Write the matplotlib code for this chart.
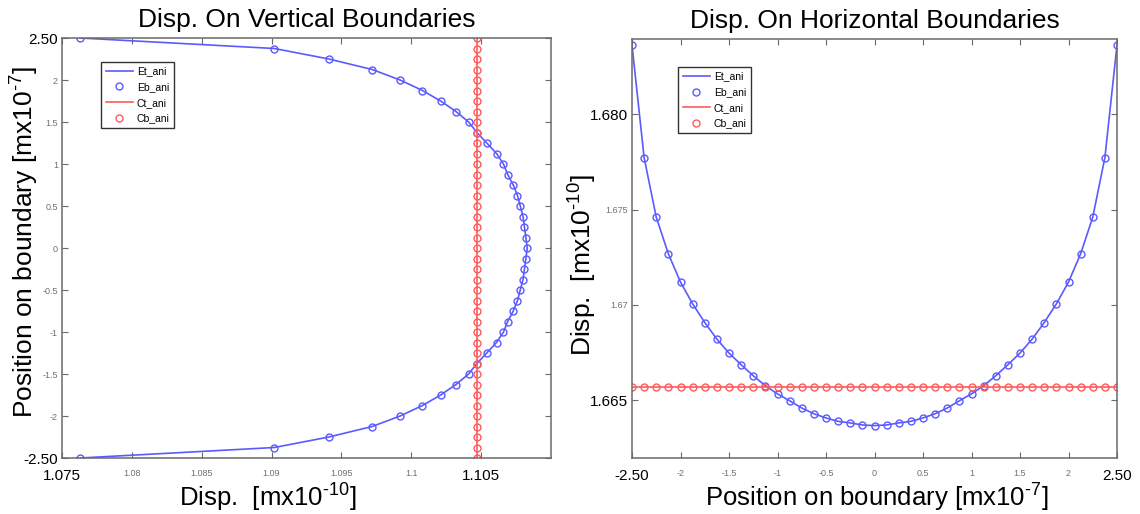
import matplotlib
matplotlib.use("Agg")
import matplotlib.pyplot as plt

plt.rcParams['font.family'] = ['Liberation Sans', 'DejaVu Sans']

# node positions along a boundary [m x 1e-7]
boundary_pos = [-2.5, -2.375, -2.25, -2.125, -2.0, -1.875, -1.75, -1.625, -1.5, -1.375,
                -1.25, -1.125, -1.0, -0.875, -0.75, -0.625, -0.5, -0.375, -0.25, -0.125,
                0.0, 0.125, 0.25, 0.375, 0.5, 0.625, 0.75, 0.875, 1.0, 1.125,
                1.25, 1.375, 1.5, 1.625, 1.75, 1.875, 2.0, 2.125, 2.25, 2.375, 2.5]

# displacement on vertical boundaries [m x 1e-10]
disp_vert_e = [1.0763, 1.0902, 1.0941, 1.0972, 1.0992, 1.1008, 1.1021, 1.1032, 1.1041, 1.1047,
               1.1054, 1.1061, 1.1066, 1.1069, 1.1073, 1.1076, 1.1078, 1.1080, 1.1081, 1.1082,
               1.1083, 1.1082, 1.1081, 1.1080, 1.1078, 1.1076, 1.1073, 1.1069, 1.1066, 1.1061,
               1.1054, 1.1047, 1.1041, 1.1032, 1.1021, 1.1008, 1.0992, 1.0972, 1.0941, 1.0902,
               1.0763]
disp_vert_c = [1.1047] * 41

# displacement on horizontal boundaries [m x 1e-10]
disp_horz_e = [1.68362, 1.67772, 1.67460, 1.67268, 1.67120, 1.67006, 1.66908, 1.66821, 1.66748, 1.66687,
               1.66629, 1.66577, 1.66534, 1.66498, 1.66460, 1.66430, 1.66408, 1.66390, 1.66382, 1.66371,
               1.66368, 1.66371, 1.66382, 1.66390, 1.66408, 1.66430, 1.66460, 1.66498, 1.66534, 1.66577,
               1.66629, 1.66687, 1.66748, 1.66821, 1.66908, 1.67006, 1.67120, 1.67268, 1.67460, 1.67772,
               1.68362]
disp_horz_c = [1.66568] * 41

legend_names = ['Et_ani', 'Eb_ani', 'Ct_ani', 'Cb_ani']

pos_ticks = [-2.5, -2, -1.5, -1, -0.5, 0, 0.5, 1, 1.5, 2, 2.5]
pos_labels = ['-2.50', '-2', '-1.5', '-1', '-0.5', '0', '0.5', '1', '1.5', '2', '2.50']
vdisp_ticks = [1.075, 1.08, 1.085, 1.09, 1.095, 1.1, 1.105]
vdisp_labels = ['1.075', '1.08', '1.085', '1.09', '1.095', '1.1', '1.105']
hdisp_ticks = [1.665, 1.67, 1.675, 1.68]
hdisp_labels = ['1.665', '1.67', '1.675', '1.680']

BLUE = '#5a5aff'
RED = '#ff5a5a'
HY = '\u2010'  # short hyphen for the exponents

LBL_POS = 'Position on boundary [mx10$^{\\mathregular{' + HY + '7}}$]'
LBL_DISP = 'Disp.  [mx10$^{\\mathregular{' + HY + '10}}$]'


def style_ticks(labels, big):
    for i, t in enumerate(labels):
        if i in big:
            t.set_fontsize(11)
            t.set_color('black')
        else:
            t.set_fontsize(6.5)
            t.set_color('#707070')


def draw(ax, x_e, y_e, x_c, y_c):
    ax.plot(x_e, y_e, '-', color=BLUE, lw=1.2, label=legend_names[0])
    ax.plot(x_e, y_e, 'o', ls='none', mfc='none', mec=BLUE, ms=5, mew=1.0, label=legend_names[1])
    ax.plot(x_c, y_c, '-', color=RED, lw=1.2, label=legend_names[2])
    ax.plot(x_c, y_c, 'o', ls='none', mfc='none', mec=RED, ms=5, mew=1.0, label=legend_names[3])
    for s in ax.spines.values():
        s.set_color('#6a6a6a')
        s.set_linewidth(1.1)
    ax.tick_params(direction='in', length=4, width=0.8, color='#6a6a6a',
                   top=True, right=True, pad=3)
    ax.tick_params(axis='x', pad=8)


def add_legend(ax, anchor):
    ax.legend(loc='upper left', bbox_to_anchor=anchor, fontsize=7.5,
              fancybox=False, edgecolor='#333333', framealpha=1, handlelength=2.6,
              borderpad=0.4, labelspacing=0.55, handletextpad=0.4)


fig = plt.figure(figsize=(11.4, 5.14), dpi=100)

# left: vertical boundaries
ax1 = fig.add_axes([62 / 1140, 56 / 514, 489 / 1140, 420 / 514])
draw(ax1, disp_vert_e, boundary_pos, disp_vert_c, boundary_pos)
ax1.set_xlim(1.075, 1.11)
ax1.set_ylim(-2.5, 2.5)
ax1.set_xticks(vdisp_ticks)
ax1.set_xticklabels(vdisp_labels)
ax1.set_yticks(pos_ticks)
ax1.set_yticklabels(pos_labels)
style_ticks(ax1.get_xticklabels(), {0, 6})
style_ticks(ax1.get_yticklabels(), {0, 10})
ax1.set_title('Disp. On Vertical Boundaries', fontsize=19, pad=8)
ax1.set_xlabel(LBL_DISP, fontsize=18.5)
ax1.xaxis.set_label_coords(0.42, -0.052)
ax1.set_ylabel(LBL_POS, fontsize=19)
ax1.yaxis.set_label_coords(-0.045, 0.515)
add_legend(ax1, (0.07, 0.955))

# right: horizontal boundaries
ax2 = fig.add_axes([632 / 1140, 56 / 514, 485 / 1140, 419 / 514])
draw(ax2, boundary_pos, disp_horz_e, boundary_pos, disp_horz_c)
ax2.set_xlim(-2.5, 2.5)
ax2.set_ylim(1.66198, 1.68394)
ax2.set_xticks(pos_ticks)
ax2.set_xticklabels(pos_labels)
ax2.set_yticks(hdisp_ticks)
ax2.set_yticklabels(hdisp_labels)
style_ticks(ax2.get_xticklabels(), {0, 10})
style_ticks(ax2.get_yticklabels(), {0, 3})
ax2.set_title('Disp. On Horizontal Boundaries', fontsize=19, pad=8)
ax2.set_xlabel(LBL_POS, fontsize=18.5)
ax2.xaxis.set_label_coords(0.505, -0.052)
ax2.set_ylabel(LBL_DISP, fontsize=19)
ax2.yaxis.set_label_coords(-0.07, 0.46)
add_legend(ax2, (0.085, 0.945))

fig.savefig('out.png', dpi=100)
